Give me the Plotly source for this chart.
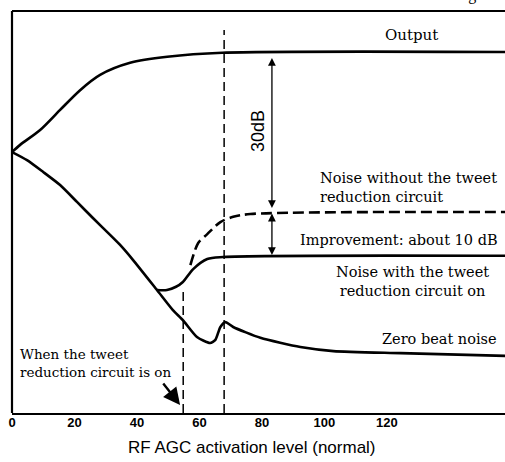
import plotly.graph_objects as go

# ---- data (relative level units) ----
output_x = [0, 2.6, 9.0, 15.4, 21.8, 28.2, 37.8, 49.7, 67.3, 158]
output_y = [64.9, 66.7, 70.4, 75.4, 80.3, 84.1, 87.1, 88.6, 89.6, 89.8]

zero_x = [0, 4.8, 9.9, 15.4, 20.8, 25.9, 31.4, 34.6, 38.7, 46.4, 51.5, 54.7, 59.2, 63.4, 65.1, 66.7, 68.3, 70.8, 79.5, 92.3, 102.9, 124.4, 158]
zero_y = [64.9, 62.9, 60.0, 56.7, 52.5, 48.5, 44.3, 41.8, 38.1, 30.6, 25.6, 23.1, 18.9, 17.4, 18.2, 21.4, 22.6, 21.4, 18.7, 16.4, 15.4, 14.9, 14.2]

with_x = [46.4, 49.6, 52.5, 54.7, 58.0, 62.5, 67.6, 158]
with_y = [30.6, 30.6, 31.4, 32.6, 35.8, 38.3, 38.8, 39.1]

without_x = [57.1, 59.6, 62.5, 66.7, 70.8, 76.3, 158]
without_y = [36.8, 42.3, 44.5, 47.5, 48.8, 49.5, 50.0]

vline1_x = [54.8, 54.8]
vline1_y = [0, 31.3]
vline2_x = [67.9, 67.9]
vline2_y = [0, 95.3]

tick_vals = [0, 20, 40, 60, 80, 100, 120]
tick_text = ["0", "20", "40", "60", "80", "100", "120"]

arrow30_x = 83.2
arrow30_y = [88.3, 50.6]
arrow10_y = [49.6, 38.9]

SERIF = "DejaVu Serif"
SANS = "Liberation Sans"

fig = go.Figure()

curve = dict(color="black", width=2.6)
fig.add_trace(go.Scatter(x=output_x, y=output_y, mode="lines", line=dict(shape="spline", smoothing=0.8, **curve)))
fig.add_trace(go.Scatter(x=zero_x, y=zero_y, mode="lines", line=dict(shape="spline", smoothing=0.6, **curve)))
fig.add_trace(go.Scatter(x=with_x, y=with_y, mode="lines", line=dict(shape="spline", smoothing=0.8, **curve)))
fig.add_trace(go.Scatter(x=without_x, y=without_y, mode="lines",
                         line=dict(shape="spline", smoothing=0.8, color="black", width=2.6, dash="11px,5px")))
vl = dict(color="black", width=1.5, dash="9px,5px")
fig.add_trace(go.Scatter(x=vline1_x, y=vline1_y, mode="lines", line=vl))
fig.add_trace(go.Scatter(x=vline2_x, y=vline2_y, mode="lines", line=vl))

ann = []
def txt(x, y, t, size=15, xanchor="center", align="center", family=SERIF):
    ann.append(dict(x=x, y=y, xref="x", yref="y", text=t, showarrow=False,
                    xanchor=xanchor, yanchor="middle", align=align,
                    font=dict(family=family, size=size, color="black")))

txt(127.9, 94.0, "Output")
txt(98.1, 56.2, "Noise without the tweet<br>reduction circuit", size=14.5, xanchor="left", align="left")
txt(123.9, 43.0, "Improvement: about 10 dB", size=14.5)
txt(128.2, 32.8, "Noise with the tweet<br>reduction circuit on", size=14.5)
txt(136.9, 18.4, "Zero beat noise", size=14.5)
txt(2.0, 12.4, "When the tweet<br>reduction circuit is on", size=13.5, xanchor="left", align="left")

ann.append(dict(x=78.7, y=70.1, xref="x", yref="y", text="30dB", textangle=-90, showarrow=False,
                font=dict(family="Liberation Sans Narrow, Liberation Sans", size=18, color="black")))

for (y0, y1) in [arrow30_y, arrow10_y]:
    ann.append(dict(x=arrow30_x, y=y0, ax=arrow30_x, ay=y1, xref="x", yref="y", axref="x", ayref="y",
                    text="", showarrow=True, arrowhead=2, arrowside="end+start", arrowsize=1.2,
                    arrowwidth=1.3, arrowcolor="black"))

# pointer arrow
ann.append(dict(x=53.8, y=2.0, xref="x", yref="y", ax=-18, ay=-23, text="", showarrow=True,
                arrowhead=2, arrowsize=1.4, arrowwidth=2.4, arrowcolor="black"))

# x-axis title
ann.append(dict(x=0.487, y=-0.087, xref="paper", yref="paper", text="RF AGC activation level (normal)",
                showarrow=False, xanchor="center", yanchor="middle",
                font=dict(family=SANS, size=17, color="black")))
# clipped caption at top right
ann.append(dict(x=0.945, y=1.012, xref="paper", yref="paper", text="Fig", showarrow=False,
                xanchor="right", yanchor="bottom", font=dict(family="Liberation Serif", size=16, color="black")))

# frame lines (top and left)
shapes = [
    dict(type="line", xref="paper", yref="paper", x0=0, x1=1, y0=1, y1=1, line=dict(color="black", width=2.2)),
    dict(type="line", xref="paper", yref="paper", x0=0, x1=0, y0=0, y1=1, line=dict(color="black", width=2.2)),
]

fig.update_layout(
    width=505, height=462,
    margin=dict(l=12, r=0, t=11, b=49),
    paper_bgcolor="white", plot_bgcolor="white",
    showlegend=False,
    annotations=ann,
    shapes=shapes,
    xaxis=dict(range=[0, 157.8], showgrid=False, zeroline=False, showline=True,
               linecolor="black", linewidth=2.2, tickvals=tick_vals,
               ticktext=["<b>%s</b>" % t for t in tick_text], ticks="", ticklabelstandoff=-4,
               tickfont=dict(family=SANS, size=13, color="black"), fixedrange=True),
    yaxis=dict(range=[0, 100], showgrid=False, zeroline=False, showline=False,
               showticklabels=False, ticks="", fixedrange=True),
)

fig.write_html("out.html", config={"displayModeBar": False, "staticPlot": True})
with open("out.html", "r", encoding="utf-8") as f:
    html = f.read()
html = html.replace("<body>", '<body style="margin:0;padding:0">', 1)
with open("out.html", "w", encoding="utf-8") as f:
    f.write(html)
